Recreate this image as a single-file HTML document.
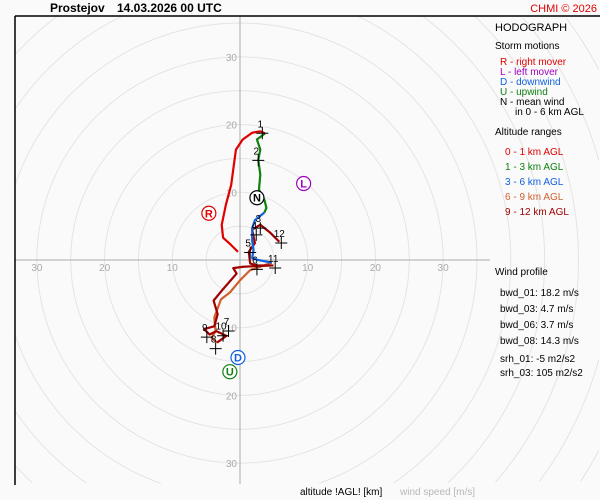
<!DOCTYPE html>
<html><head><meta charset="utf-8"><style>
html,body{margin:0;width:600px;height:500px;overflow:hidden;background:#fafafa;}
svg{display:block;font-family:"Liberation Sans",sans-serif;}
</style></head><body>
<svg id="c" width="600" height="500" viewBox="0 0 600 500">
<rect width="600" height="500" fill="#fafafa"/>
<text x="50" y="12" font-size="12" font-weight="bold">Prostejov</text>
<text x="117" y="12" font-size="12" font-weight="bold">14.03.2026 00 UTC</text>
<text x="597" y="12" font-size="11" fill="#e00000" text-anchor="end">CHMI © 2026</text>
<g id="grid"></g>
<line x1="15" y1="16" x2="600" y2="16" stroke="#000" stroke-width="1.5"/>
<line x1="15" y1="16" x2="15" y2="485" stroke="#000" stroke-width="1.5"/>
<g id="series"></g>
<g id="labels" font-size="10"></g>
<g font-size="10">
<text x="495" y="31" font-size="11">HODOGRAPH</text>
<text x="495" y="49">Storm motions</text>
<text x="500" y="65" fill="#e00000">R - right mover</text>
<text x="500" y="75" fill="#a000c0">L - left mover</text>
<text x="500" y="85" fill="#1060e0">D - downwind</text>
<text x="500" y="95" fill="#108010">U - upwind</text>
<text x="500" y="105">N - mean wind</text>
<text x="515" y="115">in 0 - 6 km AGL</text>
<text x="495" y="135">Altitude ranges</text>
<text x="505" y="155" fill="#e00000">0 - 1 km AGL</text>
<text x="505" y="170" fill="#108010">1 - 3 km AGL</text>
<text x="505" y="185" fill="#1060e0">3 - 6 km AGL</text>
<text x="505" y="200" fill="#d06030">6 - 9 km AGL</text>
<text x="505" y="215" fill="#a00000">9 - 12 km AGL</text>
<text x="495" y="275">Wind profile</text>
<text x="500" y="296">bwd_01: 18.2 m/s</text>
<text x="500" y="312">bwd_03: 4.7 m/s</text>
<text x="500" y="328">bwd_06: 3.7 m/s</text>
<text x="500" y="344">bwd_08: 14.3 m/s</text>
<text x="500" y="362">srh_01: -5 m2/s2</text>
<text x="500" y="376">srh_03: 105 m2/s2</text>
</g>
<text x="300" y="495" font-size="10">altitude !AGL! [km]</text>
<text x="400" y="495" font-size="10" fill="#b8b8b8">wind speed [m/s]</text>
</svg>
<script>
const ringSpeeds=[5,10,15,20,25,30,35,40,45,50,55,60,65];
const axisLabels=[10,20,30];
const seg01=[[-0.3,1.2],[-1.3,2.2],[-2.5,3.3],[-2.7,5.2],[-2.1,8.1],[-1.3,11.1],[-0.9,14.1],[-0.6,16.3],[0.4,17.8],[1.8,18.8],[3,19],[3.7,18.7]];
const seg13=[[3.7,18.7],[2.5,17.8],[3,16.3],[2.7,14.8],[3,12.6],[2.8,10.4],[3.6,8.9],[3.9,7.7],[3.6,7]];
const seg36=[[3.6,7],[2.2,5.9],[1.8,4.7],[1.8,2.8],[2,1.5],[1.8,0.3],[2.7,0],[4.7,-0.4]];
const seg69=[[4.7,-0.4],[1.5,-1.5],[0,-3],[-1.5,-4.8],[-2.8,-5.8],[-3.8,-8.5],[-3.6,-10.5],[-4.2,-11.5],[-3.4,-12.2]];
const seg912=[[-3.4,-12.2],[-2,-11.2],[-3.5,-10.5],[-4.5,-11],[-5.3,-10.2],[-3.8,-9.8],[-3.3,-8],[-3.9,-6],[-2.5,-4.3],[-0.5,-2],[-1,-1.2],[0.5,-1],[2.5,-0.9],[4.8,-0.8],[2.5,-0.8],[1.5,-0.5],[1.3,1.2],[2.2,2.5],[1.8,4.5],[3,5.2],[4.5,4],[5.8,2.7]];
const levelLabels=["1","2","3","4","5","6","7","8","9","10","11","12"];
const levelPts=[[3.3,19.6],[2.7,15.6],[3,5.6],[2.4,4.6],[1.5,2],[2.5,-0.5],[-1.7,-9.6],[-3.6,-12.2],[-4.9,-10.5],[-2.5,-10.3],[5.2,-0.3],[6.1,3.4]];
const stormLabels=["R","L","N","D","U"];
const stormPts=[[-4.6,6.9],[9.4,11.3],[2.5,9.2],[-0.3,-14.4],[-1.5,-16.5]];
const stormCols=["#e00000","#a000c0","#000","#1060e0","#108010"];
const cx=240,cy=260,k=6.77;
const X=u=>cx+u*k, Y=v=>cy-v*k;
const NS="http://www.w3.org/2000/svg";
function mk(t,a,p){const e=document.createElementNS(NS,t);for(const q in a)e.setAttribute(q,a[q]);p.appendChild(e);return e;}
const g=document.getElementById('grid');
const L=15,T=16,R=599,B=484;
ringSpeeds.forEach(s=>{
 const r=s*k;let d='',pen=false;
 for(let i=0;i<=720;i++){const a=i/720*2*Math.PI;const x=X(0)+r*Math.cos(a),y=Y(0)+r*Math.sin(a);
  if(x>=L&&x<=R&&y>=T&&y<=B){d+=(pen?'L':'M')+x.toFixed(1)+','+y.toFixed(1);pen=true;}else pen=false;}
 if(!d)return;
 const c=mk('path',{d:d,fill:'none',stroke:'#e4e4e4'},g);
 
 });
const ax=mk('line',{x1:X(0),y1:16,x2:X(0),y2:484,stroke:'#aaa'},g);


const ay=mk('line',{x1:15,y1:Y(0),x2:490,y2:Y(0),stroke:'#aaa'},g);


axisLabels.forEach(s=>{
 [[X(-s),Y(0)+11,'middle'],[X(s),Y(0)+11,'middle'],[X(0)-3,Y(s)+4,'end'],[X(0)-3,Y(-s)+4,'end']].forEach(p=>{
  const t=mk('text',{x:p[0],y:p[1],'text-anchor':p[2],fill:'#aaa','font-size':10},g);t.textContent=s;
  
  });
});
const sg=document.getElementById('series');
[[seg69,'#d06030','segment-6-9km'],[seg912,'#a00000','segment-9-12km'],[seg36,'#1060e0','segment-3-6km'],[seg13,'#108010','segment-1-3km'],[seg01,'#e00000','segment-0-1km']].forEach(s=>{
 const p=mk('polyline',{points:s[0].map(q=>X(q[0])+','+Y(q[1])).join(' '),fill:'none',stroke:s[1],'stroke-width':2.2,'stroke-linejoin':'round'},sg);
 
 
});
const lg=document.getElementById('labels');
levelPts.forEach((q,i)=>{const x=X(q[0]),y=Y(q[1]);
 const c=mk('path',{d:`M${x-6},${y+6}h12M${x},${y}v12`,stroke:'#000'},lg);
 
 
 const t=mk('text',{x:x-2,y:y,'text-anchor':'middle'},lg);t.textContent=levelLabels[i];
 
 });
stormPts.forEach((q,i)=>{const x=X(q[0]),y=Y(q[1]);
 const c=mk('circle',{cx:x,cy:y,r:7,fill:'#fff',stroke:stormCols[i],'stroke-width':1.2},lg);
 
 
 const t=mk('text',{x:x,y:y+4,'text-anchor':'middle',fill:stormCols[i],'font-size':11,'font-weight':'bold'},lg);t.textContent=stormLabels[i];
 
 });
</script>
</body></html>
